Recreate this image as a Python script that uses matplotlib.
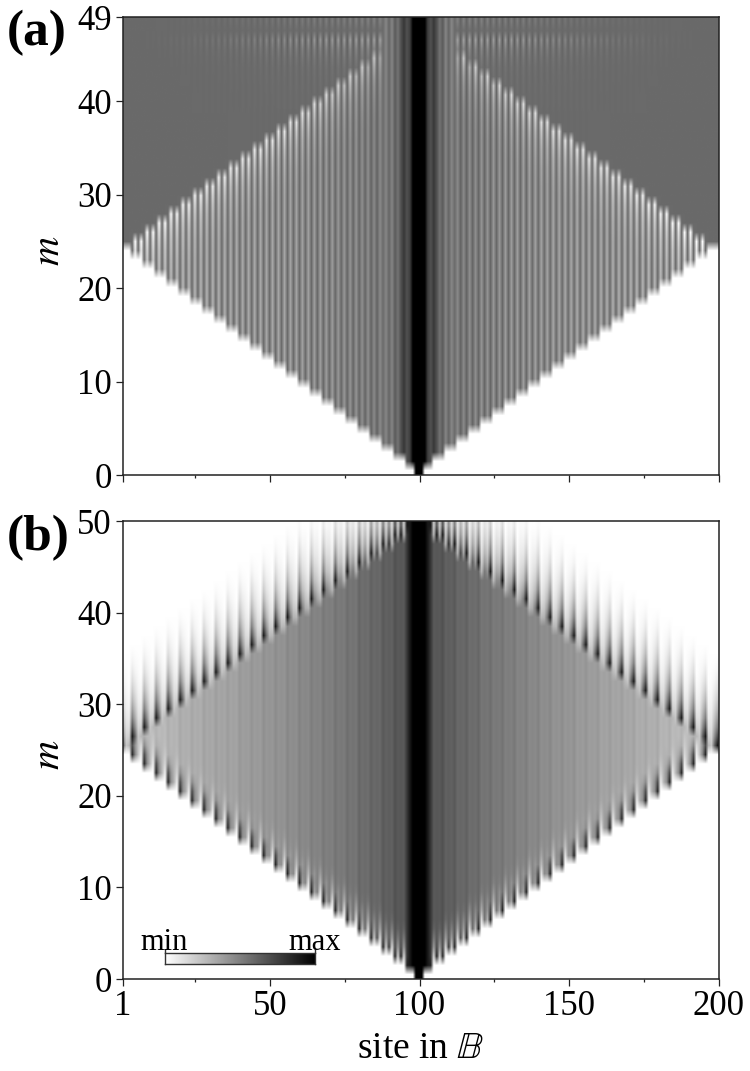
import numpy as np
import matplotlib
matplotlib.use("Agg")
import matplotlib.pyplot as plt

plt.rcParams['font.family'] = ['Liberation Serif', 'DejaVu Serif']
plt.rcParams['mathtext.fontset'] = 'stix'

W, H = 750, 1071
sites = list(range(1, 201))
centre_site = 100
rows_a = list(range(50))
rows_b = list(range(50))

# Panel (a): darkness (0 white, 1 black) read per 4-site stair, centre to edge
a_dark = [0.80, 0.68, 0.63, 0.61, 0.60, 0.60, 0.59, 0.59, 0.59, 0.58, 0.58, 0.58, 0.58,
          0.58, 0.58, 0.58, 0.58, 0.58, 0.58, 0.58, 0.58, 0.58, 0.58, 0.58, 0.58]
a_light = [0.62, 0.54, 0.49, 0.46, 0.44, 0.42, 0.41, 0.39, 0.38, 0.37, 0.36, 0.35, 0.34,
           0.33, 0.33, 0.32, 0.31, 0.30, 0.29, 0.28, 0.27, 0.26, 0.25, 0.24, 0.23]
a_core = [1.0, 1.0, 1.0, 0.75, 0.68, 0.78, 0.68, 0.55, 0.64, 0.48, 0.60, 0.47, 0.58]
a_front_boost = [0.25, 0.16, 0.10, 0.06, 0.04, 0.02, 0.01]
a_background = 0.585
a_top_contrast = {49: 0.09, 48: 0.02, 47: 0.22, 46: 0.12, 45: 0.07, 44: 0.04, 43: 0.03,
                  42: 0.025, 41: 0.02, 40: 0.02}
a_top_fade = [0.5, 0.9, 1.0, 1.0, 1.0, 0.95, 0.9, 0.85, 0.8, 0.72, 0.65, 0.58, 0.5,
              0.42, 0.36, 0.3, 0.24, 0.2, 0.15, 0.1, 0.07, 0.04, 0.02, 0.0, 0.0]

# Panel (b)
b_interior = [0.76, 0.66, 0.63, 0.60, 0.58, 0.55, 0.53, 0.51, 0.49, 0.47, 0.45, 0.43, 0.42,
              0.40, 0.39, 0.37, 0.36, 0.35, 0.33, 0.32, 0.30, 0.28, 0.26, 0.24, 0.22]
b_second = [1.0, 1.0, 0.9, 0.8, 0.68, 0.58, 0.5, 0.44, 0.4, 0.36, 0.33, 0.3, 0.3,
            0.28, 0.28, 0.26, 0.26, 0.25, 0.25, 0.25, 0.25, 0.25, 0.25, 0.25, 0.25]
b_adjacent = [0.0, 0.0, 0.05, 0.1, 0.18, 0.24, 0.28, 0.32, 0.35, 0.38, 0.4, 0.42, 0.44,
              0.45, 0.45, 0.46, 0.46, 0.47, 0.47, 0.48, 0.48, 0.5, 0.5, 0.52, 0.52]
b_low_dark = [0.85, 0.70, 0.46, 0.32, 0.26]
b_low_gap = [0.25, 0.60, 0.80, 0.95]
b_up_dark = [0.90, 0.68, 0.50, 0.38, 0.28, 0.20, 0.14, 0.09, 0.05, 0.02]
b_up_light = [0.28, 0.18, 0.12, 0.08, 0.05, 0.03, 0.015, 0.0]


def panel_a():
    img = np.zeros((len(rows_a), len(sites)))
    for i, r in enumerate(rows_a):
        for j, s in enumerate(sites):
            d = abs(s - centre_site)
            k = max(d - 1, 0) // 4
            low = 0 if d <= 1 else k + 1
            up = 49 - k
            if r < low:
                continue
            if r >= up:
                v = a_background
                c = a_top_contrast.get(r, 0.01) * a_top_fade[k]
                v += -c if d % 2 else 0.25 * c
            elif d % 2 == 0:
                v = a_dark[k]
            else:
                v = a_light[k]
                o = up - 1 - r
                if o < len(a_front_boost):
                    weight = 1.0 if d % 4 == 3 else min(1.0, 0.3 + 0.07 * k)
                    v -= a_front_boost[o] * weight
            if d < len(a_core):
                v = a_core[d]
            img[i, j] = v
    return img


def panel_b():
    img = np.zeros((len(rows_b), len(sites)))
    for i, r in enumerate(rows_b):
        for j, s in enumerate(sites):
            d = abs(s - centre_site)
            k = max(d - 1, 0) // 4
            low = 0 if d <= 1 else k + 1
            up = 49 - k
            if r < low:
                continue
            strength = 1.0 if d % 4 == 0 else b_second[k]
            adj = b_adjacent[k] if d % 4 == 3 else 0.0
            if d <= 2:
                v = 1.0
            elif d == 3:
                v = 0.9
            elif r >= up:
                o = r - up
                if d % 2 == 0:
                    v = b_up_dark[o] * strength if o < len(b_up_dark) else 0.0
                else:
                    lt = b_up_light[o] if o < len(b_up_light) else 0.0
                    dk = b_up_dark[o] if o < len(b_up_dark) else 0.0
                    v = lt + (dk - lt) * adj
            else:
                base = b_interior[k]
                o = r - low
                if d % 2 == 0:
                    base += 0.02 if d % 4 == 0 else 0.0
                    v = max(base, b_low_dark[o] * strength) if o < len(b_low_dark) else base
                else:
                    base -= 0.015
                    lt = base * b_low_gap[o] if o < len(b_low_gap) else base
                    dk = max(base, b_low_dark[o]) if o < len(b_low_dark) else base
                    v = lt + (dk - lt) * adj
            img[i, j] = v
    return img


def style(ax, ymax, yticks):
    ax.set_xlim(1, 200)
    ax.set_ylim(0, ymax)
    ax.set_aspect('auto')
    ax.set_xticks([1, 50, 100, 150, 200])
    ax.set_xticks([25, 75, 125, 175], minor=True)
    ax.set_yticks(yticks)
    ax.tick_params(axis='both', which='major', length=5.0, width=0.9, labelsize=25, pad=3,
                   color='#222222')
    ax.tick_params(axis='x', which='minor', length=2.5, width=0.9, color='#222222')
    for sp in ax.spines.values():
        sp.set_linewidth(1.1)
        sp.set_color('#222222')
    ax.set_ylabel(r'$m$', fontsize=29, labelpad=0)


fig = plt.figure(figsize=(W / 100, H / 100), dpi=100)
ax_a = fig.add_axes([123 / W, 1 - 475 / H, 596 / W, 458 / H])
ax_b = fig.add_axes([123 / W, 1 - 979 / H, 596 / W, 458 / H])

ax_a.imshow(panel_a(), origin='lower', extent=[0.6, 200, 0, 49], cmap='gray_r', vmin=0, vmax=1,
            interpolation='bilinear', aspect='auto')
ax_b.imshow(panel_b(), origin='lower', extent=[0.6, 200, 0, 50], cmap='gray_r', vmin=0, vmax=1,
            interpolation='bilinear', aspect='auto')
style(ax_a, 49, [0, 10, 20, 30, 40, 49])
style(ax_b, 50, [0, 10, 20, 30, 40, 50])
ax_a.set_xticklabels([])
ax_b.set_xlabel(r'site in $\mathbb{B}$', fontsize=27, labelpad=6)
ax_a.yaxis.set_label_coords((68 - 123) / 596, 0.49)
ax_b.yaxis.set_label_coords((68 - 123) / 596, 0.49)

fig.text(7 / W, 1 - 45 / H, '(a)', fontsize=37, fontweight='bold', ha='left', va='baseline')
fig.text(7 / W, 1 - 550 / H, '(b)', fontsize=37, fontweight='bold', ha='left', va='baseline')

# grey-scale key
ax_k = fig.add_axes([164.5 / W, 1 - 964 / H, 150.5 / W, 11.5 / H])
ax_k.imshow(np.linspace(0, 1, 256).reshape(1, -1), cmap='gray_r', aspect='auto',
            extent=[0, 1, 0, 1], vmin=0, vmax=1)
ax_k.set_yticks([])
ax_k.xaxis.tick_top()
ax_k.set_xticks([0, 1])
ax_k.set_xticklabels(['min', 'max'], fontsize=22)
ax_k.tick_params(axis='x', length=3, width=1, pad=-6, color='#333333')
for sp in ax_k.spines.values():
    sp.set_linewidth(1.0)
    sp.set_color('#333333')

fig.savefig('out.png', dpi=100)
